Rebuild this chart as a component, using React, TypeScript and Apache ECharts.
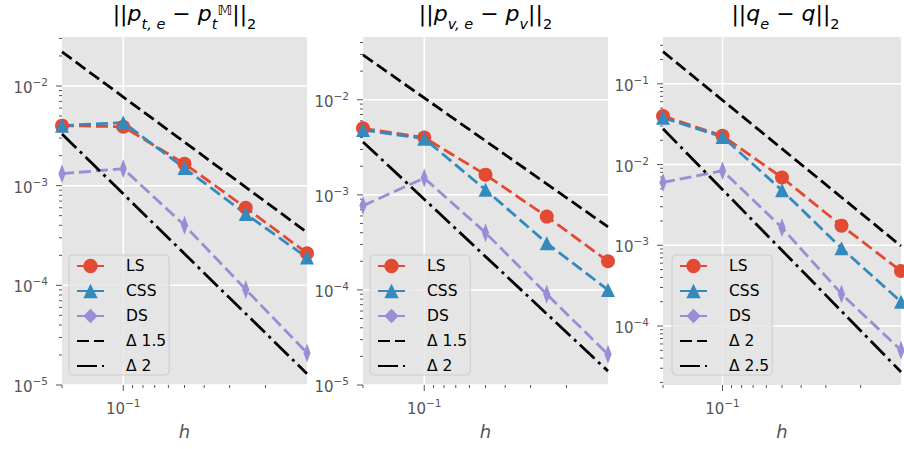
import React, { useEffect, useRef } from 'react';
import * as echarts from 'echarts';

// ---------------- data ----------------
const H = [0.2, 0.1, 0.05, 0.025, 0.0125];
const H_ENDS = [0.2, 0.0125];

// panel 1: ||p_{t,e} - p_t^M||_2
const PT_LS = [4.0e-3, 3.9e-3, 1.66e-3, 6.0e-4, 2.1e-4];
const PT_CSS = [4.0e-3, 4.3e-3, 1.5e-3, 5.2e-4, 1.9e-4];
const PT_DS = [1.32e-3, 1.48e-3, 4.0e-4, 9.1e-5, 2.1e-5];
const PT_REF_A = [2.2e-2, 3.4e-4]; // Δ 1.5
const PT_REF_B = [3.3e-3, 1.3e-5]; // Δ 2
const PT_Y_RANGE = [1e-5, 0.031];

// panel 2: ||p_{v,e} - p_v||_2
const PV_LS = [5.0e-3, 4.0e-3, 1.63e-3, 5.9e-4, 2.0e-4];
const PV_CSS = [4.8e-3, 3.9e-3, 1.13e-3, 3.1e-4, 1.0e-4];
const PV_DS = [7.7e-4, 1.5e-3, 4.0e-4, 9.0e-5, 2.1e-5];
const PV_REF_A = [2.96e-2, 4.6e-4]; // Δ 1.5
const PV_REF_B = [3.6e-3, 1.4e-5]; // Δ 2
const PV_Y_RANGE = [1e-5, 0.0457];

// panel 3: ||q_e - q||_2
const Q_LS = [4.0e-2, 2.27e-2, 6.9e-3, 1.75e-3, 4.8e-4];
const Q_CSS = [3.8e-2, 2.2e-2, 4.8e-3, 9.2e-4, 2.0e-4];
const Q_DS = [6.0e-3, 8.4e-3, 1.65e-3, 2.5e-4, 5.0e-5];
const Q_REF_A = [0.25, 9.8e-4]; // Δ 2
const Q_REF_B = [2.77e-2, 2.7e-5]; // Δ 2.5
const Q_Y_RANGE = [1.86e-5, 0.38];

const REF_LABELS = [
  ['Δ 1.5', 'Δ 2'],
  ['Δ 1.5', 'Δ 2'],
  ['Δ 2', 'Δ 2.5'],
];
const METHOD_LABELS = ['LS', 'CSS', 'DS'];
const X_RANGE = [0.0125, 0.2];

// ---------------- styling ----------------
const FONT = "'DejaVu Sans', sans-serif";
const C_LS = '#E24A33';
const C_CSS = '#348ABD';
const C_DS = '#988ED5';
const BG = '#E5E5E5';
const TICK = '#555555';
const GRID_LEFT = [62, 363, 663];
const GRID_TOP = 37;
const GRID_W = 245;
const GRID_H = 348;
const LEGEND_LEFT = [69, 370, 672];
const LEGEND_TOP = 255;
const LW = 2.8;
const DASH = [12, 5];
const DASHDOT = [20, 5, 3, 5];
const DIAMOND = 'path://M0,-10L6,0L0,10L-6,0Z';

const PANELS = [
  { ls: PT_LS, css: PT_CSS, ds: PT_DS, refA: PT_REF_A, refB: PT_REF_B, y: PT_Y_RANGE },
  { ls: PV_LS, css: PV_CSS, ds: PV_DS, refA: PV_REF_A, refB: PV_REF_B, y: PV_Y_RANGE },
  { ls: Q_LS, css: Q_CSS, ds: Q_DS, refA: Q_REF_A, refB: Q_REF_B, y: Q_Y_RANGE },
];

const tokenStyle = (fontSize: number, lineHeight: number, va: string, italic: boolean) => ({
  fontSize,
  lineHeight,
  verticalAlign: va,
  fontStyle: italic ? 'italic' : 'normal',
  fontFamily: FONT,
  fill: '#000',
  color: '#000',
});

const TITLE_RICH = {
  n: tokenStyle(22, 29, 'top', false),
  i: tokenStyle(22, 29, 'top', true),
  s: tokenStyle(14.5, 13, 'bottom', false),
  si: tokenStyle(14.5, 13, 'bottom', true),
  su: tokenStyle(14.5, 13, 'top', false),
};

const TITLES = [
  '{n|||}{i|p}{si|t, e}{n| − }{i|p}{si|t}{su|𝕄}{n|||}{s|2}',
  '{n|||}{i|p}{si|v, e}{n| − }{i|p}{si|v}{n|||}{s|2}',
  '{n|||}{i|q}{si|e}{n| − }{i|q}{n|||}{s|2}',
];

function logTicks(min: number, max: number) {
  const major: number[] = [];
  const minor: number[] = [];
  const k0 = Math.floor(Math.log10(min)) - 1;
  const k1 = Math.ceil(Math.log10(max)) + 1;
  for (let k = k0; k <= k1; k++) {
    for (let m = 1; m <= 9; m++) {
      const v = m * Math.pow(10, k);
      if (v >= min * (1 - 1e-9) && v <= max * (1 + 1e-9)) {
        (m === 1 ? major : minor).push(v);
      }
    }
  }
  return { major, minor };
}

const powLabel = (v: number) => {
  const e = Math.log10(v);
  const r = Math.round(e);
  if (Math.abs(e - r) > 1e-6) return '';
  return '{b|10}{s|' + (r < 0 ? '−' + -r : String(r)) + '}';
};

const LABEL_RICH = {
  b: { fontSize: 15, lineHeight: 19, verticalAlign: 'bottom', color: TICK, fontFamily: FONT },
  s: { fontSize: 10.5, lineHeight: 10, verticalAlign: 'top', color: TICK, fontFamily: FONT },
};

function buildOption() {
  const grid: any[] = [];
  const xAxis: any[] = [];
  const yAxis: any[] = [];
  const series: any[] = [];
  const legend: any[] = [];
  const graphic: any[] = [];

  PANELS.forEach((p, i) => {
    grid.push({
      left: GRID_LEFT[i],
      top: GRID_TOP,
      width: GRID_W,
      height: GRID_H,
      show: true,
      backgroundColor: BG,
      borderWidth: 0,
    });
    xAxis.push({
      type: 'log',
      gridIndex: i,
      min: X_RANGE[0],
      max: X_RANGE[1],
      inverse: true,
      axisLine: { show: false },
      axisTick: { show: false },
      splitLine: { show: false },
      axisLabel: { formatter: powLabel, rich: LABEL_RICH, margin: 12, color: TICK, fontFamily: FONT },
      name: 'h',
      nameLocation: 'middle',
      nameGap: 37,
      nameTextStyle: { fontSize: 18, fontStyle: 'italic', color: TICK, fontFamily: FONT },
    });
    yAxis.push({
      type: 'log',
      gridIndex: i,
      min: p.y[0],
      max: p.y[1],
      axisLine: { show: false },
      axisTick: { show: false },
      splitLine: { show: false },
      axisLabel: { formatter: powLabel, rich: LABEL_RICH, margin: 14, color: TICK, fontFamily: FONT },
    });

    // axis decorations (grid lines and ticks) placed through the axis scales
    const yt = logTicks(p.y[0], p.y[1]);
    const xt = logTicks(X_RANGE[0], X_RANGE[1]);
    const deco: number[][] = [];
    yt.major.forEach((v) => deco.push([0.1, v, 0]));
    yt.minor.forEach((v) => deco.push([0.1, v, 1]));
    xt.major.forEach((v) => deco.push([v, p.y[0], 2]));
    xt.minor.forEach((v) => deco.push([v, p.y[0], 3]));
    series.push({
      type: 'custom',
      name: 'axes' + i,
      xAxisIndex: i,
      yAxisIndex: i,
      silent: true,
      clip: false,
      data: deco,
      renderItem: (params: any, api: any) => {
        const cs = params.coordSys;
        const kind = api.value(2);
        const pt = api.coord([api.value(0), api.value(1)]);
        const tickStyle = { stroke: TICK, lineWidth: 1 };
        const white = { stroke: '#ffffff', lineWidth: 1.5 };
        const bottom = cs.y + cs.height;
        if (kind === 0) {
          return {
            type: 'group',
            children: [
              { type: 'line', shape: { x1: cs.x, y1: pt[1], x2: cs.x + cs.width, y2: pt[1] }, style: white },
              { type: 'line', shape: { x1: cs.x - 6, y1: pt[1], x2: cs.x, y2: pt[1] }, style: tickStyle },
            ],
          };
        }
        if (kind === 1) {
          return { type: 'line', shape: { x1: cs.x - 3, y1: pt[1], x2: cs.x, y2: pt[1] }, style: tickStyle };
        }
        if (kind === 2) {
          return {
            type: 'group',
            children: [
              { type: 'line', shape: { x1: pt[0], y1: cs.y, x2: pt[0], y2: bottom }, style: white },
              { type: 'line', shape: { x1: pt[0], y1: bottom, x2: pt[0], y2: bottom + 6 }, style: tickStyle },
            ],
          };
        }
        return { type: 'line', shape: { x1: pt[0], y1: bottom, x2: pt[0], y2: bottom + 3 }, style: tickStyle };
      },
    });

    const mk = (name: string, vals: number[], color: string, symbol: string, size: any) => ({
      type: 'line',
      name: name + '#' + i,
      xAxisIndex: i,
      yAxisIndex: i,
      data: H.map((h, j) => [h, vals[j]]),
      symbol,
      symbolSize: size,
      symbolKeepAspect: true,
      showSymbol: true,
      lineStyle: { color, width: LW, type: DASH },
      itemStyle: { color },
      emphasis: { disabled: true },
    });
    series.push(mk(METHOD_LABELS[0], p.ls, C_LS, 'circle', 14));
    series.push(mk(METHOD_LABELS[1], p.css, C_CSS, 'triangle', 14));
    series.push(mk(METHOD_LABELS[2], p.ds, C_DS, DIAMOND, [12, 19]));

    const ref = (name: string, vals: number[], dash: number[]) => ({
      type: 'line',
      name: name + '#' + i,
      xAxisIndex: i,
      yAxisIndex: i,
      data: H_ENDS.map((h, j) => [h, vals[j]]),
      symbol: 'none',
      showSymbol: false,
      lineStyle: { color: '#000000', width: LW, type: dash },
      itemStyle: { color: 'rgba(0,0,0,0)' },
      emphasis: { disabled: true },
    });
    series.push(ref(REF_LABELS[i][0], p.refA, DASH));
    series.push(ref(REF_LABELS[i][1], p.refB, DASHDOT));

    legend.push({
      orient: 'vertical',
      left: LEGEND_LEFT[i],
      top: LEGEND_TOP,
      itemWidth: 27,
      itemHeight: 18,
      itemGap: 9,
      padding: [3, 3, 1, 7],
      backgroundColor: 'rgba(229,229,229,0.8)',
      borderColor: '#cccccc',
      borderWidth: 1,
      borderRadius: 4,
      selectedMode: false,
      data: [...METHOD_LABELS, ...REF_LABELS[i]].map((n) => n + '#' + i),
      formatter: (n: string) => '{g| }' + n.split('#')[0],
      textStyle: { fontSize: 15.5, color: '#000', fontFamily: FONT, rich: { g: { width: 17 } } },
    });

    graphic.push({
      type: 'text',
      x: GRID_LEFT[i] + GRID_W / 2,
      y: 17,
      style: {
        text: TITLES[i],
        rich: TITLE_RICH,
        align: 'center',
        verticalAlign: 'middle',
        fill: '#000',
        fontFamily: FONT,
        fontSize: 22,
      },
    });
  });

  return {
    animation: false,
    backgroundColor: '#ffffff',
    grid,
    xAxis,
    yAxis,
    series,
    legend,
    graphic,
  };
}

export default function App() {
  const ref = useRef<HTMLDivElement>(null);
  useEffect(() => {
    if (!ref.current) return;
    const chart = echarts.init(ref.current, null, { renderer: 'svg' });
    chart.setOption(buildOption() as any);
    return () => chart.dispose();
  }, []);
  return (
    <div
      ref={ref}
      style={{ position: 'fixed', left: 0, top: 0, width: 904, height: 449 }}
    />
  );
}
